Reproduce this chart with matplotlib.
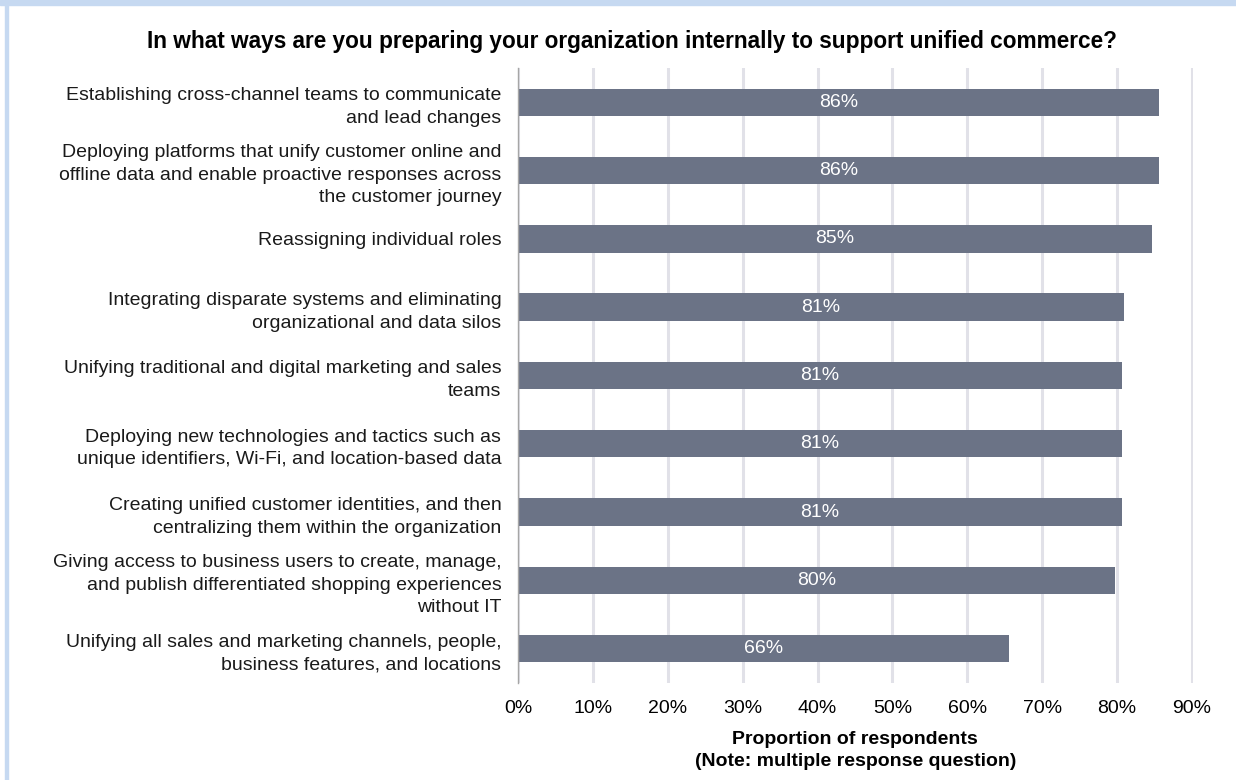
import matplotlib.pyplot as plt
from matplotlib.patches import Rectangle

plt.rcParams['font.family'] = ['Liberation Sans', 'DejaVu Sans']

# Survey responses, top to bottom
labels = [
    "Establishing cross-channel teams to communicate\nand lead changes",
    "Deploying platforms that unify customer online and\noffline data and enable proactive responses across\nthe customer journey",
    "Reassigning individual roles",
    "Integrating disparate systems and eliminating\norganizational and data silos",
    "Unifying traditional and digital marketing and sales\nteams",
    "Deploying new technologies and tactics such as\nunique identifiers, Wi-Fi, and location-based data",
    "Creating unified customer identities, and then\ncentralizing them within the organization",
    "Giving access to business users to create, manage,\nand publish differentiated shopping experiences\nwithout IT",
    "Unifying all sales and marketing channels, people,\nbusiness features, and locations",
]
shares = [0.856, 0.856, 0.846, 0.809, 0.806, 0.806, 0.806, 0.797, 0.656]
xticks = [0.0, 0.1, 0.2, 0.3, 0.4, 0.5, 0.6, 0.7, 0.8, 0.9]

bar_color = '#6b7386'

fig = plt.figure(figsize=(12.36, 7.8), dpi=100)

# light blue frame along the top and left edge
fig.patches.append(Rectangle((0, 0.994), 1, 0.006, transform=fig.transFigure,
                             color='#c6d9f1', zorder=0))
fig.patches.append(Rectangle((0.004, 0), 0.0022, 1, transform=fig.transFigure,
                             color='#c6d9f1', zorder=0))

ax = fig.add_axes([0.4191, 0.1244, 0.5459, 0.7884])

ypos = list(range(len(labels)))
ax.barh(ypos, shares, height=0.4, color=bar_color, zorder=3)
for y, v in zip(ypos, shares):
    ax.text(v / 2, y, f"{v * 100:.0f}%", ha='center', va='center',
            color='white', fontsize=14, zorder=4)

ax.set_xlim(0, 0.901)
ax.set_ylim(len(labels) - 0.5, -0.5)
ax.set_yticks(ypos)
ax.set_yticklabels(labels, fontsize=14, color='#1a1a1a', linespacing=1.42)
ax.set_xticks(xticks)
ax.set_xticklabels([f"{t * 100:.0f}%" for t in xticks], fontsize=14)
ax.tick_params(axis='both', length=0)
ax.tick_params(axis='x', pad=12)
ax.tick_params(axis='y', pad=12)

ax.grid(axis='x', color='#e1e1e8', linewidth=2.2, zorder=0)
for s in ['top', 'right', 'bottom']:
    ax.spines[s].set_visible(False)
ax.spines['left'].set_color('#a6a6a6')
ax.spines['left'].set_linewidth(1)
ax.spines['left'].set_zorder(5)

ax.set_xlabel("Proportion of respondents\n(Note: multiple response question)",
              fontsize=14, fontweight='bold', labelpad=10, linespacing=1.42)

fig.text(0.511, 0.947,
         "In what ways are you preparing your organization internally to support unified commerce?",
         ha='center', va='center', fontsize=16.3, fontweight='bold')

fig.savefig('out.png', dpi=100)
